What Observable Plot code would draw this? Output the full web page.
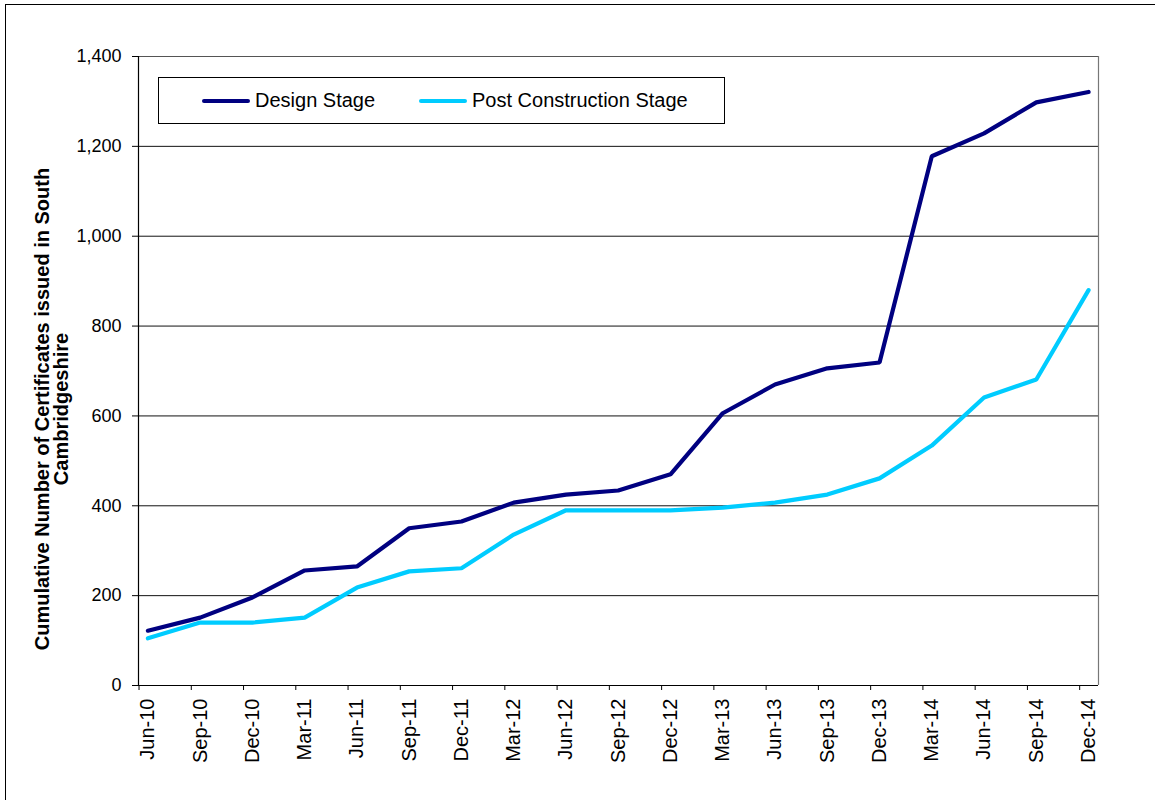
<!DOCTYPE html>
<html>
<head>
<meta charset="utf-8">
<script src="https://cdn.jsdelivr.net/npm/d3@7"></script>
<script src="https://cdn.jsdelivr.net/npm/@observablehq/plot@0.6"></script>
<style>
  body { margin: 0; background: #fff; font-family: "Liberation Sans", Arial, sans-serif; }
  #wrap { position: relative; width: 1155px; height: 800px; overflow: hidden; }
  #frame { position: absolute; left: 5px; top: 4px; width: 1170px; height: 820px; border: 1.5px solid #000; box-sizing: border-box; pointer-events: none; }
  #legend { position: absolute; left: 158px; top: 77px; width: 567px; height: 47px; border: 1px solid #000; box-sizing: border-box; background: #fff; font-size: 20px; color: #000; }
  .item { position: absolute; top: 0; height: 45px; display: flex; align-items: center; }
  .sw { display: inline-block; width: 48px; height: 4px; border-radius: 2px; margin-right: 5px; }
</style>
</head>
<body>
<div id="wrap">
  <div id="chart"></div>
  <div id="legend"></div>
  <div id="frame"></div>
</div>
<script>
const periods = ["Jun-10","Sep-10","Dec-10","Mar-11","Jun-11","Sep-11","Dec-11","Mar-12","Jun-12","Sep-12","Dec-12","Mar-13","Jun-13","Sep-13","Dec-13","Mar-14","Jun-14","Sep-14","Dec-14"];
const designStage = [122,151,196,256,265,350,365,407,425,434,470,606,670,706,719,1178,1229,1298,1321];
const postConstruction = [105,140,140,151,218,254,261,336,390,390,390,396,407,425,461,534,641,681,880];
const seriesNames = ["Design Stage", "Post Construction Stage"];
const seriesColors = ["#000080", "#00CCFF"];
const yTicks = [0,200,400,600,800,1000,1200,1400];
const yTitle = "Cumulative Number of Certificates issued in South\nCambridgeshire";

const rows = [
  ...periods.map((p, i) => ({i, period: p, value: designStage[i], series: seriesNames[0]})),
  ...periods.map((p, i) => ({i, period: p, value: postConstruction[i], series: seriesNames[1]}))
];

const xMin = -0.18, xMax = 18.19;

const chart = Plot.plot({
  width: 1155,
  height: 800,
  marginLeft: 138,
  marginRight: 57,
  marginTop: 56,
  marginBottom: 115,
  style: {fontFamily: "'Liberation Sans', Arial, sans-serif", fontSize: "18px", background: "transparent"},
  x: {type: "linear", domain: [xMin, xMax]},
  y: {domain: [0, 1400]},
  color: {domain: seriesNames, range: seriesColors},
  marks: [
    Plot.gridY(yTicks.filter(d => d > 0 && d < 1400), {stroke: "#111", strokeOpacity: 1, strokeWidth: 1}),
    Plot.ruleY([1400], {stroke: "#555", strokeWidth: 1.2}),
    Plot.ruleX([xMax], {stroke: "#777", strokeWidth: 1.2}),
    Plot.ruleX([xMin], {stroke: "#000", strokeWidth: 1.2}),
    Plot.ruleY([0], {stroke: "#000", strokeWidth: 1.2}),
    Plot.axisY({ticks: yTicks, tickFormat: d3.format(","), tickSize: 6, tickPadding: 11, fontSize: 18, label: null, color: "#000"}),
    Plot.axisX({ticks: d3.range(periods.length).map(i => i - 0.17), tickFormat: () => "", tickSize: 5, label: null}),
    Plot.axisX({ticks: d3.range(periods.length), tickFormat: i => periods[i], tickSize: 0, tickPadding: 13, tickRotate: -90, fontSize: 20, label: null, color: "#000"}),
    Plot.line(rows, {x: "i", y: "value", z: "series", stroke: "series", strokeWidth: 4.2, strokeLinejoin: "miter", strokeLinecap: "round"}),
    Plot.text([yTitle], {text: d => d, frameAnchor: "left", dx: -86, dy: 38, rotate: -90, fontSize: 20, fontWeight: "bold", lineHeight: 0.95, textAnchor: "middle", fill: "#000"})
  ]
});
document.getElementById("chart").appendChild(chart);

const legend = document.getElementById("legend");
const positions = [43, 260];
seriesNames.forEach((name, k) => {
  const item = document.createElement("div");
  item.className = "item";
  item.style.left = positions[k] + "px";
  const sw = document.createElement("span");
  sw.className = "sw";
  sw.style.background = seriesColors[k];
  const label = document.createElement("span");
  label.textContent = name;
  item.appendChild(sw);
  item.appendChild(label);
  legend.appendChild(item);
});
</script>
</body>
</html>
